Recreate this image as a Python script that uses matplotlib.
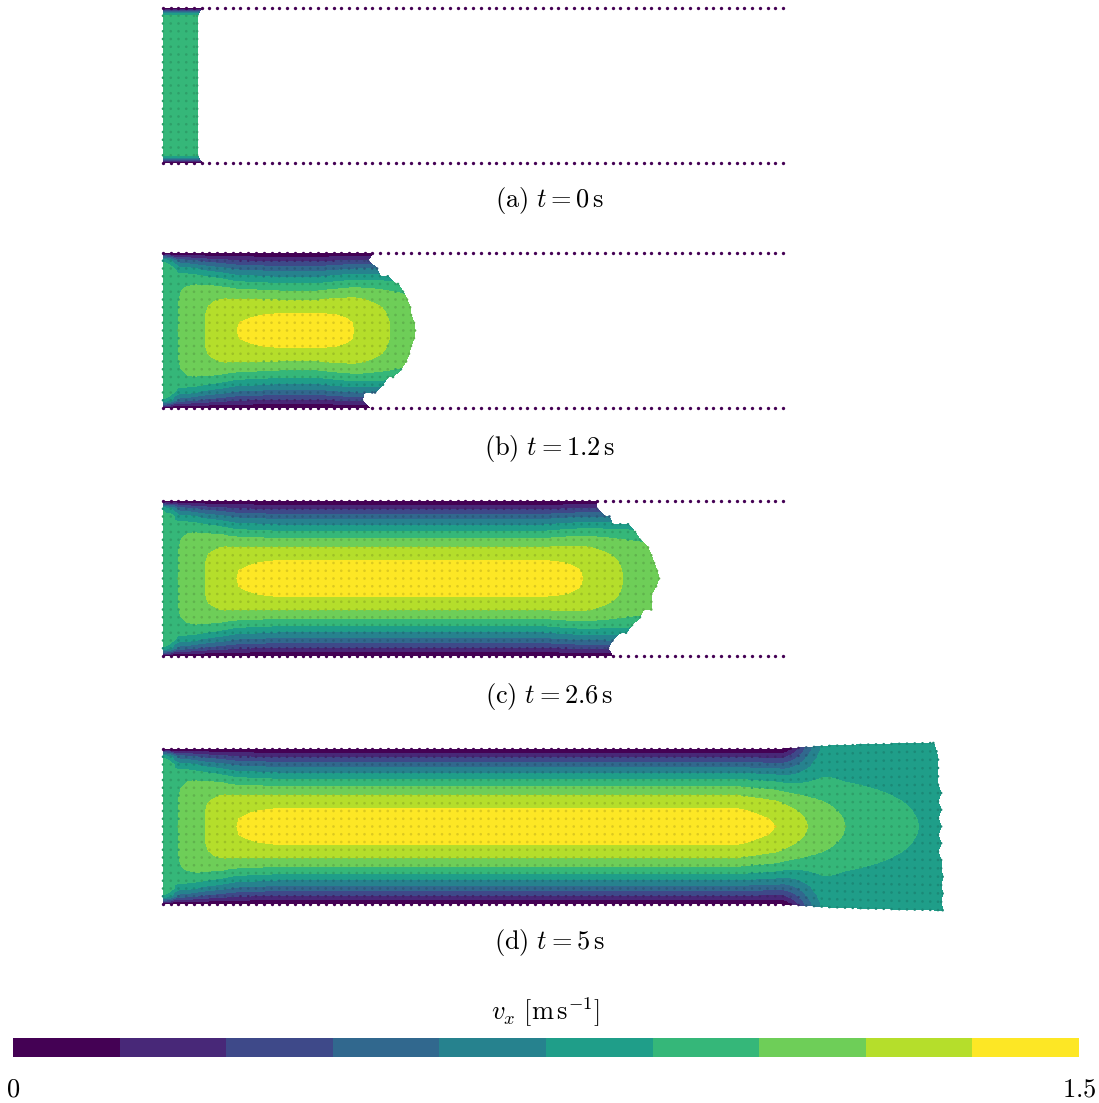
import numpy as np
import matplotlib
matplotlib.use('Agg')
import matplotlib.pyplot as plt
from matplotlib.tri import Triangulation
from matplotlib.colors import BoundaryNorm

plt.rcParams['mathtext.fontset'] = 'cm'

# geometry, in channel heights
dx = 0.05              # particle spacing
wall_length = 4.0

# colour scale
levels = np.linspace(0, 1.5, 11)
cmap = plt.get_cmap('viridis', 10)
norm = BoundaryNorm(levels, 10)

captions = [r'$\mathrm{(a)}\ t = 0\,\mathrm{s}$',
            r'$\mathrm{(b)}\ t = 1.2\,\mathrm{s}$',
            r'$\mathrm{(c)}\ t = 2.6\,\mathrm{s}$',
            r'$\mathrm{(d)}\ t = 5\,\mathrm{s}$']

# free surface x for each particle row, top wall row first
a_front = [0.25] + [0.22] * 19 + [0.25]
b_front = [1.355, 1.323, 1.381, 1.465, 1.516, 1.548, 1.574, 1.594, 1.606, 1.619, 1.626,
           1.619, 1.606, 1.587, 1.568, 1.535, 1.484, 1.419, 1.368, 1.284, 1.335]
c_front = [2.800, 2.800, 2.880, 3.000, 3.045, 3.077, 3.129, 3.161, 3.168, 3.187, 3.206,
           3.181, 3.161, 3.161, 3.155, 3.077, 3.026, 2.987, 2.900, 2.871, 2.903]
d_front = [4.97, 4.99, 5.00, 5.01, 5.00, 5.01, 5.02, 5.01, 5.02, 5.01, 5.02,
           5.01, 5.02, 5.01, 5.02, 5.02, 5.03, 5.02, 5.03, 5.02, 5.03]

# velocity on the centre line (x, v_x)
a_velocity = 0.98
b_uc_x = [0, 0.10, 0.27, 0.465, 0.75, 1.0, 1.24, 1.46, 1.63]
b_uc_v = [1.0, 1.05, 1.2, 1.35, 1.42, 1.42, 1.35, 1.2, 1.1]
c_uc_x = [0, 0.10, 0.27, 0.465, 0.75, 2.45, 2.71, 2.96, 3.21]
c_uc_v = [1.0, 1.05, 1.2, 1.35, 1.43, 1.43, 1.35, 1.2, 1.1]
d_uc_x = [0, 0.10, 0.27, 0.465, 0.75, 3.7, 3.95, 4.16, 4.40, 4.87, 5.03]
d_uc_v = [1.0, 1.05, 1.2, 1.35, 1.43, 1.43, 1.35, 1.2, 1.05, 0.9, 0.87]

# flatness of the cross-channel profile (2 = parabolic)
b_n_x = [0, 0.10, 0.27, 0.465, 0.75, 1.0, 1.63]
b_n_v = [20, 6.5, 3.8, 2.4, 2.0, 2.0, 3.5]
c_n_x = [0, 0.10, 0.27, 0.465, 0.75, 2.45, 3.21]
c_n_v = [20, 6.5, 3.8, 2.4, 2.0, 2.0, 3.5]
d_n_x = [0, 0.10, 0.27, 0.465, 0.75]
d_n_v = [20, 6.5, 3.8, 2.4, 2.0]

# outflow jet past the end of the walls
jet_x = [4.0, 4.3, 4.6, 5.03]
jet_half = [0.5, 0.52, 0.53, 0.54]
jet_edge_u = 0.8
jet_core_width = 0.57
blend_x = [3.97, 4.3]

# panel placement, pixel row of the top wall and of the caption
top_px = [8, 253, 501, 749]
caption_px = [201, 448, 696, 943]
inlet_px = 163
scale_px = 155.0
W, Hpx = 1099, 1103


def particles(front):
    xs, ys, walls = [], [], []
    nrow = len(front)
    for k, xf in enumerate(front):
        y0 = 1 - k * dx
        xr = np.arange(0, xf + 1e-9, dx)
        if xf - xr[-1] > 0.3 * dx:
            xr = np.append(xr, xf)
        is_wall = (k == 0 or k == nrow - 1) & (xr <= wall_length + 1e-9)
        half = np.interp(xr, jet_x, jet_half)
        yr = 0.5 + (y0 - 0.5) * half / 0.5
        xs.append(xr)
        ys.append(yr)
        walls.append(is_wall)
    return np.concatenate(xs), np.concatenate(ys), np.concatenate(walls)


def velocity(x, y, wall, uc_x, uc_v, n_x, n_v):
    half = np.interp(x, jet_x, jet_half)
    eta = np.clip(np.abs(y - 0.5) / half, 0, 1)
    uc = np.interp(x, uc_x, uc_v)
    n = np.interp(x, n_x, n_v)
    u_ch = uc * (1 - eta ** n)
    u_jet = jet_edge_u + (uc - jet_edge_u) * np.exp(-(eta / jet_core_width) ** 2)
    s = np.clip((x - blend_x[0]) / (blend_x[1] - blend_x[0]), 0, 1)
    s = s * s * (3 - 2 * s)
    u = (1 - s) * u_ch + s * u_jet
    u[wall] = 0.0
    return u


fig = plt.figure(figsize=(W / 100, Hpx / 100), dpi=100)

panels = [(a_front, None), (b_front, (b_uc_x, b_uc_v, b_n_x, b_n_v)),
          (c_front, (c_uc_x, c_uc_v, c_n_x, c_n_v)),
          (d_front, (d_uc_x, d_uc_v, d_n_x, d_n_v))]
ylo, yhi = -0.07, 1.07
x_left = -inlet_px / scale_px
x_right = (W - inlet_px) / scale_px

cs = None
for i, (front, prof) in enumerate(panels):
    ax_top = top_px[i] - (yhi - 1) * scale_px
    ax_h = (yhi - ylo) * scale_px
    ax = fig.add_axes([0, 1 - (ax_top + ax_h) / Hpx, 1, ax_h / Hpx])
    ax.set_xlim(x_left, x_right)
    ax.set_ylim(ylo, yhi)
    ax.axis('off')

    x, y, wall = particles(front)
    if prof is None:
        u = np.where(wall, 0.0, a_velocity)
    else:
        u = velocity(x, y, wall, *prof)

    tri = Triangulation(x, y)
    pts = np.column_stack([x, y])[tri.triangles]
    edge = np.linalg.norm(pts - np.roll(pts, 1, axis=1), axis=2).max(axis=1)
    tri.set_mask(edge > 1.6 * dx)
    cs = ax.tricontourf(tri, u, levels=levels, cmap=cmap)

    # fluid particles
    fl = ~wall
    dot_col = cmap(norm(u[fl]))
    dot_col[:, :3] *= 0.87
    ax.scatter(x[fl], y[fl], s=3.5, c=dot_col, linewidths=0, zorder=3)

    # wall particles
    xw = np.arange(0, wall_length + 1e-9, dx)
    for yw in (0.0, 1.0):
        ax.plot(xw, np.full_like(xw, yw), 'o', ms=2.4, color=cmap(0),
                mec='none', zorder=4)

    fig.text(0.5, 1 - caption_px[i] / Hpx, captions[i], ha='center', va='center',
             fontsize=19)

# colour bar
cax = fig.add_axes([13 / W, 1 - 1057 / Hpx, 1066 / W, 19 / Hpx])
cbar = fig.colorbar(cs, cax=cax, orientation='horizontal')
cbar.outline.set_visible(False)
cbar.set_ticks([0, 1.5])
cbar.set_ticklabels([r'$0$', r'$1.5$'])
cax.tick_params(length=0, pad=14, labelsize=19)
fig.text(545 / W, 1 - 1012 / Hpx, r'$v_x\ [\mathrm{m\,s^{-1}}]$', ha='center',
         va='center', fontsize=19)

fig.savefig('out.png', dpi=100)
